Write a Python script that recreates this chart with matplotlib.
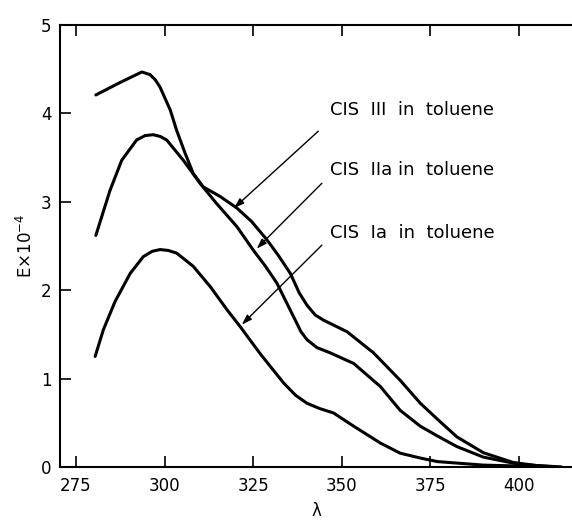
import numpy as np
import matplotlib
matplotlib.use("Agg")
import matplotlib.pyplot as plt

# Absorption spectra (E x 10^-4 vs wavelength)
wl_III = [280.6, 287.4, 291.0, 293.6, 295.9, 297.4, 298.7, 301.6, 303.4, 305.8,
          308.1, 310.9, 315.7, 320.4, 324.5, 328.9, 332.0, 335.5, 338.0, 340.2,
          342.5, 344.9, 351.5, 359.0, 366.5, 372.2, 377, 382.5, 390, 398.4,
          405, 412]
e_III = [4.21, 4.35, 4.42, 4.47, 4.44, 4.38, 4.30, 4.04, 3.81, 3.55,
         3.32, 3.17, 3.06, 2.93, 2.78, 2.57, 2.40, 2.19, 1.97, 1.83,
         1.72, 1.66, 1.53, 1.29, 0.98, 0.72, 0.54, 0.34, 0.16, 0.05,
         0.015, 0.0]

wl_IIa = [280.6, 284.6, 287.9, 292.1, 294.5, 296.8, 298.8, 300.6, 305.3, 310,
          314.7, 320.4, 325.1, 328.5, 331.7, 336.4, 338.5, 340.2, 343.0, 346.8,
          353.4, 360.9, 366.5, 372.2, 377, 382.5, 390, 400, 410]
e_IIa = [2.62, 3.13, 3.47, 3.70, 3.75, 3.76, 3.74, 3.70, 3.47, 3.21,
         2.98, 2.72, 2.45, 2.27, 2.08, 1.70, 1.53, 1.44, 1.35, 1.29,
         1.17, 0.91, 0.64, 0.46, 0.35, 0.23, 0.11, 0.03, 0.0]

wl_Ia = [280.4, 282.7, 286, 290.3, 294, 296.5, 298.7, 301, 303.4, 308.1,
         312.9, 317.6, 321.3, 327, 333.6, 337.0, 340.2, 343.8, 347.7, 353.4,
         360.9, 366.5, 372.2, 377, 390, 400, 410]
e_Ia = [1.25, 1.55, 1.87, 2.19, 2.38, 2.44, 2.46, 2.45, 2.42, 2.27,
        2.04, 1.78, 1.59, 1.28, 0.95, 0.81, 0.72, 0.66, 0.61, 0.46,
        0.27, 0.155, 0.10, 0.06, 0.02, 0.01, 0.0]

labels = ["CIS  III  in  toluene", "CIS  IIa in  toluene", "CIS  Ia  in  toluene"]
label_xy = [(346.8, 4.04), (346.8, 3.36), (346.8, 2.65)]
arrow_start = [(343.4, 3.80), (344.4, 3.21), (344.4, 2.51)]
arrow_tip = [(319.6, 2.93), (326.0, 2.47), (321.8, 1.61)]

xticks = [275, 300, 325, 350, 375, 400]
yticks = [0, 1, 2, 3, 4, 5]

fig = plt.figure(figsize=(5.72, 5.24), dpi=100)
ax = fig.add_axes([0.105, 0.109, 0.895, 0.843])

for wl, e in [(wl_III, e_III), (wl_IIa, e_IIa), (wl_Ia, e_Ia)]:
    ax.plot(wl, e, color="black", lw=2.2, solid_capstyle="round",
            solid_joinstyle="round")

for txt, pos, start, tip in zip(labels, label_xy, arrow_start, arrow_tip):
    ax.text(pos[0], pos[1], txt, fontsize=13, va="center", ha="left")
    ax.annotate("", xy=tip, xytext=start,
                arrowprops=dict(arrowstyle="-|>,head_length=0.6,head_width=0.2",
                                color="black", lw=1.0, shrinkA=0, shrinkB=0))

ax.set_xlim(270.5, 415)
ax.set_ylim(0, 5)
ax.set_xticks(xticks)
ax.set_yticks(yticks)
ax.tick_params(direction="in", length=8, width=1.2, labelsize=12,
               top=True, right=False)
ax.tick_params(axis="x", pad=7)
ax.tick_params(axis="y", pad=6)
ax.spines["right"].set_visible(False)
for s in ["left", "bottom", "top"]:
    ax.spines[s].set_linewidth(1.5)

ax.set_xlabel("λ", fontsize=12, labelpad=5)
ax.set_ylabel("E×10$^{-4}$", fontsize=12, labelpad=4)

fig.savefig("out.png", dpi=100)
